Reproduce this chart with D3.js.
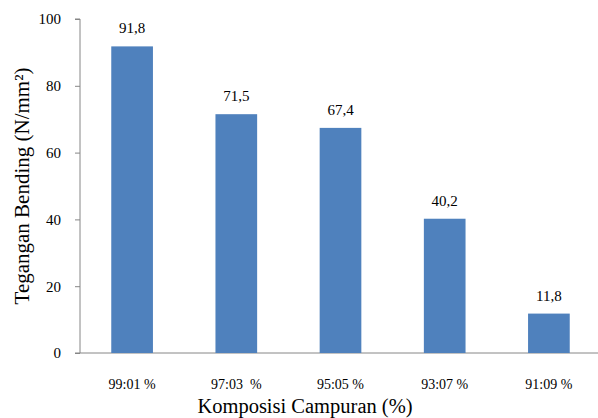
<!DOCTYPE html>
<html>
<head>
<meta charset="utf-8">
<script src="https://cdn.jsdelivr.net/npm/d3@7"></script>
<style>
  body { margin: 0; background: #fff; }
  svg text { font-family: "Liberation Serif", "Times New Roman", serif; fill: #000; }
</style>
</head>
<body>
<div id="container"></div>
<script>
const width = 598
const height = 418

// data
const categories = ['99:01 %', '97:03  %', '95:05 %', '93:07 %', '91:09 %']
const values = [91.8, 71.5, 67.4, 40.2, 11.8]
const valueLabels = ['91,8', '71,5', '67,4', '40,2', '11,8']
const yTicks = [0, 20, 40, 60, 80, 100]

const svg = d3.select('div#container').append('svg')
    .attr('width', width)
    .attr('height', height)

const xScale = d3.scaleBand().domain(categories).range([80, 601]).paddingInner(0.6).paddingOuter(0.3)
const yScale = d3.scaleLinear().domain([0, 100]).range([353, 19])

// y axis
const yaxis = svg.append('g')
    .attr('transform', 'translate(80,0)')
    .call(d3.axisLeft(yScale).tickValues(yTicks).tickSize(5).tickPadding(14))
    .attr('font-family', 'Liberation Serif')
    .attr('font-size', 15)
yaxis.select('.domain').attr('stroke', '#868686').attr('d', 'M-5,' + yScale(100) + 'H0V' + yScale(0))
yaxis.selectAll('line').attr('stroke', '#868686')

// x axis
const xaxis = svg.append('g')
    .attr('transform', 'translate(0,' + yScale(0) + ')')
    .call(d3.axisBottom(xScale).tickSize(0).tickPadding(26))
    .attr('font-family', 'Liberation Serif')
    .attr('font-size', 14)
xaxis.select('.domain').attr('stroke', '#868686').attr('d', 'M75,0H598')
xaxis.selectAll('text').style('white-space', 'pre')

// bars
svg.selectAll('rect.bar')
    .data(values)
    .enter()
    .append('rect')
    .attr('class', 'bar')
    .attr('x', (d, i) => xScale(categories[i]))
    .attr('width', xScale.bandwidth())
    .attr('y', d => yScale(d))
    .attr('height', d => yScale(0) - yScale(d))
    .attr('fill', '#4F81BD')

// value labels
svg.selectAll('text.val')
    .data(values)
    .enter()
    .append('text')
    .attr('class', 'val')
    .attr('x', (d, i) => xScale(categories[i]) + xScale.bandwidth() / 2)
    .attr('y', d => yScale(d) - 13)
    .attr('text-anchor', 'middle')
    .style('font-size', '15px')
    .text((d, i) => valueLabels[i])

// axis titles
svg.append('text')
    .attr('x', 305)
    .attr('y', 413)
    .attr('text-anchor', 'middle')
    .style('font-size', '20.5px')
    .text('Komposisi Campuran (%)')

svg.append('text')
    .attr('transform', 'translate(29,186) rotate(-90)')
    .attr('text-anchor', 'middle')
    .style('font-size', '21px')
    .text('Tegangan Bending (N/mm²)')
</script>
</body>
</html>
